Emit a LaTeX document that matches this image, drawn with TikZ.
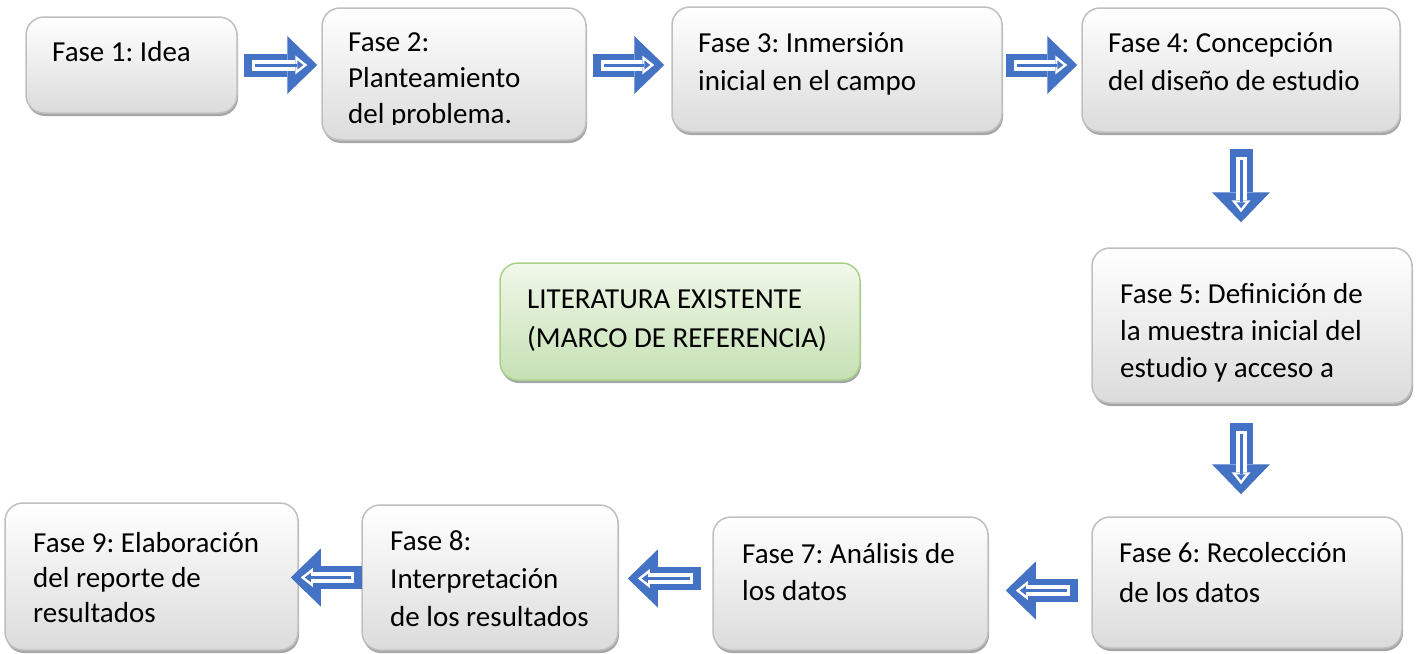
\documentclass[tikz,border=0pt]{standalone}
\usepackage{fontspec}
\setmainfont{Carlito}
\frenchspacing
\usetikzlibrary{positioning}
\usetikzlibrary{shadows}
\usetikzlibrary{arrows.meta}
\definecolor{azulflecha}{HTML}{4472C4}
\definecolor{verdeclaro}{HTML}{F1F8EA}
\definecolor{verdeoscuro}{HTML}{C5E0B3}
\definecolor{verdeborde}{HTML}{A9D18E}

\begin{document}
\begin{tikzpicture}[x=1pt, y=-1pt,
	fase/.style={rectangle, rounded corners=18pt, draw=black!25, line width=1.5pt, top color=white, bottom color=black!14, drop shadow={shadow xshift=1pt, shadow yshift=-3pt, fill=black!35, opacity=1}, inner sep=0pt},
	literatura/.style={fase, draw=verdeborde, top color=verdeclaro, bottom color=verdeoscuro},
	fasetexto/.style={anchor=base west, align=left, inner sep=0pt, font=\fontsize{29}{38}\selectfont},
	flecha/.style 2 args={draw=azulflecha, line width=23pt, -{Triangle[length=30pt, width=58pt, line width=0pt]}, shorten <=#1, shorten >=#2,
		postaction={draw=white, line width=11pt, -{Triangle[length=12pt, width=19pt, line width=0pt]}, shorten <=#1+8pt, shorten >=#2+10pt},
		postaction={draw=azulflecha, line width=3pt, -{Triangle[length=6pt, width=9pt, line width=0pt]}, shorten <=#1+11pt, shorten >=#2+14pt}},
	]
	\useasboundingbox (0,0) rectangle (1418,653);
	%Cajas
	\node[fase, minimum width=211pt, minimum height=96pt]      (f1) 	at (131.5,65)     {};
	\node[fase, minimum width=264pt, minimum height=132pt]     (f2) 	at (454,74)       {};
	\node[fase, minimum width=330pt, minimum height=125pt]     (f3) 	at (837,69.5)     {};
	\node[fase, minimum width=318pt, minimum height=124pt]     (f4) 	at (1241,70)      {};
	\node[fase, minimum width=320pt, minimum height=155pt]     (f5) 	at (1252,325.5)   {};
	\node[fase, minimum width=310pt, minimum height=131pt]     (f6) 	at (1247,582.5)   {};
	\node[fase, minimum width=275pt, minimum height=133pt]     (f7) 	at (850.5,583.5)  {};
	\node[fase, minimum width=256pt, minimum height=145pt]     (f8) 	at (490,577.5)    {};
	\node[fase, minimum width=293pt, minimum height=147pt]     (f9) 	at (151.5,576.5)  {};
	\node[literatura, minimum width=360pt, minimum height=117pt] (lit) at (680,321.5)    {};
	
	%Textos (base = ultima linea)
	\node[fasetexto]      (t1) 	at (52,61)       {Fase 1: Idea};
	\begin{scope}
		\clip (322,8) rectangle (586,124);
		\node[fasetexto, font=\fontsize{29}{36}\selectfont] (t2) at (348,123) {Fase 2:\\Planteamiento\\del problema.};
	\end{scope}
	\node[fasetexto]      (t3) 	at (698,90)      {Fase 3: Inmersión\\inicial en el campo};
	\node[fasetexto]      (t4) 	at (1108,90)     {Fase 4: Concepción\\del diseño de estudio};
	\node[fasetexto, font=\fontsize{29}{37}\selectfont] (t5) at (1120,377) {Fase 5: Definición de\\la muestra inicial del\\estudio y acceso a};
	\node[fasetexto, font=\fontsize{29}{40}\selectfont] (t6) at (1119,602) {Fase 6: Recolección\\de los datos};
	\node[fasetexto, font=\fontsize{29}{37}\selectfont] (t7) at (742,600) {Fase 7: Análisis de\\los datos};
	\node[fasetexto]      (t8) 	at (390,626)     {Fase 8:\\Interpretación\\de los resultados};
	\node[fasetexto, font=\fontsize{29}{35}\selectfont] (t9) at (33,622) {Fase 9: Elaboración\\del reporte de\\resultados};
	\node[fasetexto, font=\fontsize{29}{39}\selectfont] (tlit) at (527,347) {LITERATURA EXISTENTE\\(MARCO DE REFERENCIA)};
	
	%Flechas
	\draw[flecha={6pt}{4pt}]   (f1.east) -- (f1.east -| f2.west);
	\draw[flecha={6pt}{7pt}]   (f2.east |- f1.east) -- (f3.west |- f1.east);
	\draw[flecha={3pt}{4pt}]   (f3.east |- f1.east) -- (f4.west |- f1.east);
	\draw[flecha={16pt}{25pt}] (f4.south) -- (f4.south |- f5.north);
	\draw[flecha={19pt}{22pt}] (f4.south |- f5.south) -- (f4.south |- f6.north);
	\draw[flecha={13pt}{17pt}] ([yshift=-8pt]f6.west) -- ([yshift=-8pt]f6.west -| f7.east);
	\draw[flecha={11pt}{9pt}]  ([yshift=5pt]f7.west) -- ([yshift=5pt]f7.west -| f8.east);
	\draw[flecha={-1pt}{-8pt}] (f8.west) -- (f8.west -| f9.east);
\end{tikzpicture}
\end{document}
